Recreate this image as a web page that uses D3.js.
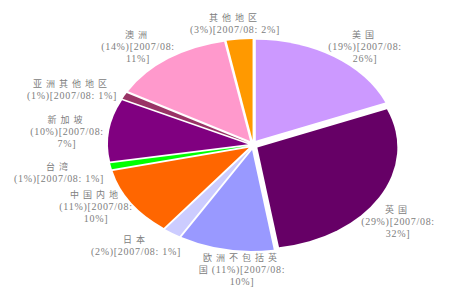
<!DOCTYPE html>
<html>
<head>
<meta charset="utf-8">
<script src="https://cdn.jsdelivr.net/npm/d3@7"></script>
<style>
  body { margin: 0; background: #fff; }
  svg { display: block; }
</style>
</head>
<body>
<div id="container"></div>
<script>
// Chart data
const categories = ["美国", "英国", "欧洲不包括英国", "日本", "中国内地", "台湾", "新加坡", "亚洲其他地区", "澳洲", "其他地区"];
const values = [19, 29, 11, 2, 11, 1, 10, 1, 14, 3];
const prevValues = [26, 32, 10, 1, 10, 1, 7, 1, 11, 2];
const colours = ["#cc99ff", "#660066", "#9999ff", "#ccccff", "#ff6600", "#00ff00", "#800080", "#993366", "#ff99cc", "#ff9900"];

// Label text, wrapped as in the picture
const labelLines = [
  ["美国", "(19%)[2007/08:", "26%]"],
  ["英国", "(29%)[2007/08:", "32%]"],
  ["欧洲不包括英", "国(11%)[2007/08:", "10%]"],
  ["日本", "(2%)[2007/08: 1%]"],
  ["中国内地", "(11%)[2007/08:", "10%]"],
  ["台湾", "(1%)[2007/08: 1%]"],
  ["新加坡", "(10%)[2007/08:", "7%]"],
  ["亚洲其他地区", "(1%)[2007/08: 1%]"],
  ["澳洲", "(14%)[2007/08:", "11%]"],
  ["其他地区", "(3%)[2007/08: 2%]"]
];

// Label anchors (centre x, first baseline y)
const labelPos = [[365, 38], [398, 213], [242, 261], [136, 243], [96, 198], [59, 170], [67, 123], [72, 87], [138, 38], [235, 21]];

const width = 450, height = 300;
const cx = 253, cy = 145, rx = 140, ry = 101, explode = 5;

const svg = d3.create("svg")
  .attr("width", width)
  .attr("height", height);

const pie = d3.pie().sort(null).value(d => d);
const arcs = pie(values);
const arc = d3.arc().innerRadius(0).outerRadius(100);

// Draw the slices, squashed into an ellipse and pulled out a little
svg.selectAll(".slice")
  .data(arcs)
  .enter().append("path")
  .attr("class", "slice")
  .attr("d", arc)
  .attr("fill", (d, i) => colours[i])
  .attr("transform", d => {
    let mid = (d.startAngle + d.endAngle) / 2;
    let x = cx + Math.sin(mid) * explode;
    let y = cy - Math.cos(mid) * explode;
    return "translate(" + x + "," + y + ") scale(" + rx / 100 + "," + ry / 100 + ")";
  });

// Split a line into CJK and latin runs so each gets its own spacing
function runs(str) {
  return str.match(/[\u4e00-\u9fff]+|[^\u4e00-\u9fff]+/g);
}

const labels = svg.selectAll(".label")
  .data(labelLines)
  .enter().append("text")
  .attr("class", "label")
  .attr("text-anchor", "middle")
  .attr("fill", "#808080");

labels.each(function (lines, i) {
  let t = d3.select(this);
  lines.forEach((line, j) => {
    let first = true;
    runs(line).forEach(r => {
      let cjk = /[\u4e00-\u9fff]/.test(r);
      let ts = t.append("tspan")
        .text(r)
        .attr("font-family", cjk ? "Noto Sans CJK SC" : "Liberation Serif")
        .attr("font-size", cjk ? 9 : 10)
        .attr("letter-spacing", cjk ? 4 : 0.7);
      if (first) {
        ts.attr("x", labelPos[i][0]).attr("y", labelPos[i][1] + j * 12);
        first = false;
      }
    });
  });
});

document.getElementById("container").append(svg.node());
</script>
</body>
</html>
